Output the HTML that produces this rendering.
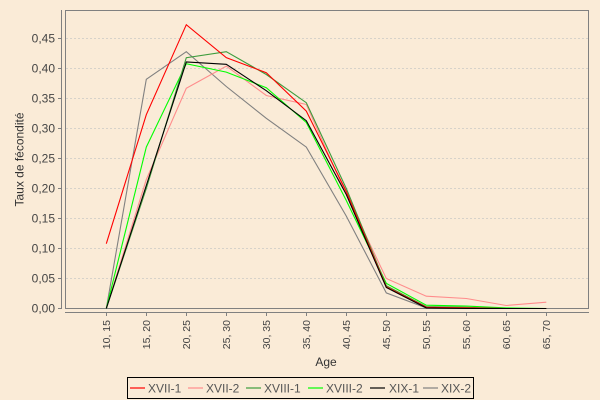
<!DOCTYPE html>
<html><head><meta charset="utf-8"><style>
html,body{margin:0;padding:0;background:#FAEBD7;}
svg{display:block;}
text{font-family:"Liberation Sans",sans-serif;}
</style></head><body>
<svg width="600" height="400" viewBox="0 0 600 400" xmlns="http://www.w3.org/2000/svg">
<rect x="0" y="0" width="600" height="400" fill="#FAEBD7"/>
<!-- grid -->
<g stroke="#d6d2ca" stroke-width="1" stroke-dasharray="2,2">
<line x1="66" y1="278.5" x2="588" y2="278.5"/>
<line x1="66" y1="248.5" x2="588" y2="248.5"/>
<line x1="66" y1="218.5" x2="588" y2="218.5"/>
<line x1="66" y1="188.5" x2="588" y2="188.5"/>
<line x1="66" y1="158.5" x2="588" y2="158.5"/>
<line x1="66" y1="128.5" x2="588" y2="128.5"/>
<line x1="66" y1="98.5" x2="588" y2="98.5"/>
<line x1="66" y1="68.5" x2="588" y2="68.5"/>
<line x1="66" y1="38.5" x2="588" y2="38.5"/>
</g>
<!-- plot border -->
<rect x="65.5" y="10.5" width="523" height="298" fill="none" stroke="#808080" stroke-width="1"/>
<!-- y axis -->
<line x1="61.5" y1="10" x2="61.5" y2="309" stroke="#808080"/>
<g stroke="#808080">
<line x1="58" y1="308.5" x2="61.5" y2="308.5"/>
<line x1="58" y1="278.5" x2="61.5" y2="278.5"/>
<line x1="58" y1="248.5" x2="61.5" y2="248.5"/>
<line x1="58" y1="218.5" x2="61.5" y2="218.5"/>
<line x1="58" y1="188.5" x2="61.5" y2="188.5"/>
<line x1="58" y1="158.5" x2="61.5" y2="158.5"/>
<line x1="58" y1="128.5" x2="61.5" y2="128.5"/>
<line x1="58" y1="98.5" x2="61.5" y2="98.5"/>
<line x1="58" y1="68.5" x2="61.5" y2="68.5"/>
<line x1="58" y1="38.5" x2="61.5" y2="38.5"/>
</g>
<g font-size="12" fill="#444" text-anchor="end">
<text x="55" y="312.5">0,00</text>
<text x="55" y="282.5">0,05</text>
<text x="55" y="252.5">0,10</text>
<text x="55" y="222.5">0,15</text>
<text x="55" y="192.5">0,20</text>
<text x="55" y="162.5">0,25</text>
<text x="55" y="132.5">0,30</text>
<text x="55" y="102.5">0,35</text>
<text x="55" y="72.5">0,40</text>
<text x="55" y="42.5">0,45</text>
</g>
<text x="0" y="0" font-size="12" fill="#333" text-anchor="middle" transform="translate(23.5,159.5) rotate(-90)">Taux de fécondité</text>
<!-- x axis -->
<line x1="65" y1="312.5" x2="589" y2="312.5" stroke="#808080"/>
<g stroke="#808080">
<line x1="106.5" y1="312.5" x2="106.5" y2="316"/>
<line x1="146.5" y1="312.5" x2="146.5" y2="316"/>
<line x1="186.5" y1="312.5" x2="186.5" y2="316"/>
<line x1="226.5" y1="312.5" x2="226.5" y2="316"/>
<line x1="266.5" y1="312.5" x2="266.5" y2="316"/>
<line x1="306.5" y1="312.5" x2="306.5" y2="316"/>
<line x1="346.5" y1="312.5" x2="346.5" y2="316"/>
<line x1="386.5" y1="312.5" x2="386.5" y2="316"/>
<line x1="426.5" y1="312.5" x2="426.5" y2="316"/>
<line x1="466.5" y1="312.5" x2="466.5" y2="316"/>
<line x1="506.5" y1="312.5" x2="506.5" y2="316"/>
<line x1="546.5" y1="312.5" x2="546.5" y2="316"/>
</g>
<g font-size="10.5" fill="#444" text-anchor="end">
<text transform="translate(110,320) rotate(-90)">10, 15</text>
<text transform="translate(150,320) rotate(-90)">15, 20</text>
<text transform="translate(190,320) rotate(-90)">20, 25</text>
<text transform="translate(230,320) rotate(-90)">25, 30</text>
<text transform="translate(270,320) rotate(-90)">30, 35</text>
<text transform="translate(310,320) rotate(-90)">35, 40</text>
<text transform="translate(350,320) rotate(-90)">40, 45</text>
<text transform="translate(390,320) rotate(-90)">45, 50</text>
<text transform="translate(430,320) rotate(-90)">50, 55</text>
<text transform="translate(470,320) rotate(-90)">55, 60</text>
<text transform="translate(510,320) rotate(-90)">60, 65</text>
<text transform="translate(550,320) rotate(-90)">65, 70</text>
</g>
<text x="326" y="366" font-size="12" fill="#333" text-anchor="middle">Age</text>
<!-- series: y = 308.5 - v*600 ; x = 106.3 + 40 i -->
<g fill="none" stroke-width="1.1" stroke-linejoin="miter">
<!-- XIX-2 gray -->
<polyline stroke="#808080" points="106.3,308.5 146.3,79.3 186.3,51.7 226.3,86.5 266.3,118.3 306.3,147.1 346.3,216.1 386.3,292.9 426.3,307.9 466.3,308.5 506.3,308.5 546.3,308.5"/>
<!-- XVII-2 pink -->
<polyline stroke="#ff8c8c" points="106.3,308.5 146.3,179.5 186.3,88.3 226.3,66.1 266.3,95.5 306.3,104.5 346.3,194.5 386.3,278.5 426.3,296.2 466.3,298.5 506.3,305.5 546.3,302.2"/>
<!-- XVIII-2 bright green -->
<polyline stroke="#00ff00" points="106.3,308.5 146.3,147.1 186.3,63.7 226.3,72.1 266.3,87.7 306.3,122.5 346.3,200.5 386.3,283.3 426.3,305.2 466.3,306.1 506.3,307.9 546.3,308.5"/>
<!-- XVIII-1 dark green -->
<polyline stroke="#3c9c3c" points="106.3,308.5 146.3,188.5 186.3,57.7 226.3,51.7 266.3,74.5 306.3,102.7 346.3,188.5 386.3,285.7 426.3,306.7 466.3,307.3 506.3,308.5 546.3,308.5"/>
<!-- XVII-1 red -->
<polyline stroke="#ff0000" points="106.3,243.7 146.3,114.7 186.3,24.7 226.3,57.7 266.3,72.7 306.3,111.1 346.3,191.5 386.3,286.9 426.3,307.3 466.3,307.9 506.3,308.5 546.3,308.5"/>
<!-- XIX-1 black -->
<polyline stroke="#000000" points="106.3,308.5 146.3,185.5 186.3,61.9 226.3,64.3 266.3,90.7 306.3,120.7 346.3,194.5 386.3,287.5 426.3,307.9 466.3,308.5 506.3,308.5 546.3,308.5"/>
</g>
<!-- legend -->
<rect x="127.5" y="377.5" width="346" height="21" fill="#FAEBD7" stroke="#000" stroke-width="1"/>
<g stroke-width="1.2">
<line x1="130" y1="388" x2="145" y2="388" stroke="#ff0000"/>
<line x1="188" y1="388" x2="203" y2="388" stroke="#ff8c8c"/>
<line x1="246" y1="388" x2="261" y2="388" stroke="#3c9c3c"/>
<line x1="308" y1="388" x2="323" y2="388" stroke="#00ff00"/>
<line x1="370" y1="388" x2="385" y2="388" stroke="#000000"/>
<line x1="423" y1="388" x2="438" y2="388" stroke="#808080"/>
</g>
<g font-size="12" fill="#555">
<text x="148" y="392.5">XVII-1</text>
<text x="206" y="392.5">XVII-2</text>
<text x="264" y="392.5">XVIII-1</text>
<text x="326" y="392.5">XVIII-2</text>
<text x="389" y="392.5">XIX-1</text>
<text x="441" y="392.5">XIX-2</text>
</g>
</svg>
</body></html>
